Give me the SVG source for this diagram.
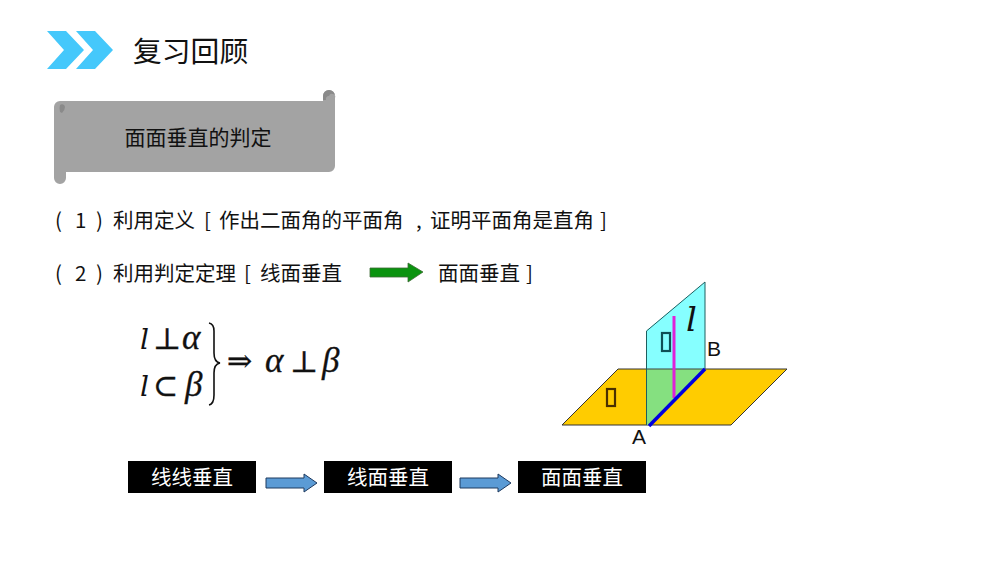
<svg xmlns="http://www.w3.org/2000/svg" width="1000" height="563" viewBox="0 0 1000 563">
<style>
text{font-family:"Noto Sans CJK SC","Noto Sans",sans-serif;fill:#111}
.b{font-size:20.5px}
.w{font-size:20.5px;fill:#fff;text-anchor:middle}
.m{font-family:"Liberation Serif",serif;font-style:italic;font-size:35px;fill:#111;stroke:#111;stroke-width:.3}
.i{font-family:"DejaVu Serif",serif;font-style:italic;font-size:28px;fill:#111}
.u{font-family:"DejaVu Serif","Liberation Serif",serif;font-style:normal;font-size:30px;fill:#111;stroke:#111;stroke-width:.4}
.l{font-family:"Liberation Sans",sans-serif;font-size:21px;fill:#111}
.blk{fill:#000}
.arr{fill:#5b9bd5;stroke:#1f3a5f;stroke-width:1}
</style>
<rect width="1000" height="563" fill="#fff"/>
<g id="chevrons" fill="#45c8fb">
<polygon points="47,31 66,31 84,50 66,69 47,69 64,50"/>
<polygon points="76,31 95,31 113,50 95,69 76,69 93,50"/>
</g>
<g id="title"><text x="133" y="62" font-size="28.800">复习回顾</text></g>
<g id="scroll">
<path d="M60,101H323V96a6,6 0 0 1 12,0V166a6,6 0 0 1 -6,6H66V178a6,6 0 0 1 -12,0V107a6,6 0 0 1 6,-6Z" fill="#a3a3a3"/>
<path d="M329,90a6,6 0 0 1 6,6v2a3,3 0 0 0 -6,-2a3,3 0 0 0 -3,4h-3v-4a6,6 0 0 1 6,-6Z" fill="#8a8a8a"/>
<path d="M60,105a3,3 0 0 1 5,2q0,3 -3,6l-2,-1q-1,-4 0,-7Z" fill="#8a8a8a"/>
<text x="198" y="145" font-size="21" text-anchor="middle">面面垂直的判定</text>
</g>
<g id="line1">
<text class="b" y="228"><tspan x="55">(</tspan><tspan x="75">1</tspan><tspan x="96">)</tspan><tspan x="113">利用定义</tspan><tspan x="204">[</tspan><tspan x="219">作出二面角的平面角</tspan><tspan x="416">,</tspan><tspan x="430">证明平面角是直角</tspan><tspan x="600">]</tspan></text>
</g>
<g id="line2">
<text class="b" y="281"><tspan x="55">(</tspan><tspan x="75">2</tspan><tspan x="96">)</tspan><tspan x="113">利用判定定理</tspan><tspan x="244">[</tspan><tspan x="260">线面垂直</tspan><tspan x="438">面面垂直</tspan><tspan x="526">]</tspan></text>
<polygon points="370,268 408,268 408,263 423,272 408,282 408,277 370,277" fill="#0a930f" stroke="#3d6b35" stroke-width="0.8"/>
</g>
<g id="formula">
<text class="i" x="140" y="349">l</text>
<text class="u" x="153" y="349">⊥</text>
<text class="m" x="182" y="349">α</text>
<text class="i" x="140" y="396">l</text>
<text class="u" x="153" y="396">⊂</text>
<text class="m" x="185" y="396">β</text>
<path d="M209,323q5,1 5,8v22q0,9 6,10q-6,1 -6,10v22q0,9 -5,10" fill="none" stroke="#111" stroke-width="1.600"/>
<text class="u" x="227" y="371">⇒</text>
<text class="m" x="265" y="372">α</text>
<text class="u" x="290" y="372">⊥</text>
<text class="m" x="322" y="372">β</text>
</g>
<g id="planes">
<polygon points="618,369 787,369 731,425 562,425" fill="#ffcc00" stroke="#333" stroke-width="1"/>
<polygon points="646,331 705,282 705,369 647,425" fill="#80ffff" fill-opacity="0.95"/>
<polygon points="647,369 705,369 648,425 647,425" fill="#85e080"/>
<path d="M646.500,425V331L705,282V369" fill="none" stroke="#1f5f5f" stroke-width="1"/>
<line x1="647" y1="369" x2="705" y2="369" stroke="#444" stroke-width="1"/>
<line x1="674" y1="316" x2="674" y2="398" stroke="#e020d8" stroke-width="3"/>
<line x1="649" y1="426" x2="705" y2="369" stroke="#0000e0" stroke-width="3.500"/>
<rect x="662" y="333" width="8" height="18" fill="none" stroke="#0f4f55" stroke-width="2.200"/>
<rect x="607" y="389" width="8" height="17" fill="none" stroke="#4a3000" stroke-width="2.200"/>
<text class="i" x="686" y="331" style="font-size:34px">l</text>
<text class="l" x="707" y="356">B</text>
<text class="l" x="632" y="444">A</text>
</g>
<g id="box1"><rect class="blk" x="128" y="461" width="128" height="32"/><text class="w" x="192" y="485">线线垂直</text></g>
<g id="box2"><rect class="blk" x="324" y="461" width="128" height="32"/><text class="w" x="388" y="485">线面垂直</text></g>
<g id="box3"><rect class="blk" x="518" y="461" width="128" height="32"/><text class="w" x="582" y="485">面面垂直</text></g>
<g id="connectors">
<polygon class="arr" points="266,478 304,478 304,474 317,483 304,492 304,488 266,488"/>
<polygon class="arr" points="460,478 498,478 498,474 511,483 498,492 498,488 460,488"/>
</g>
</svg>
